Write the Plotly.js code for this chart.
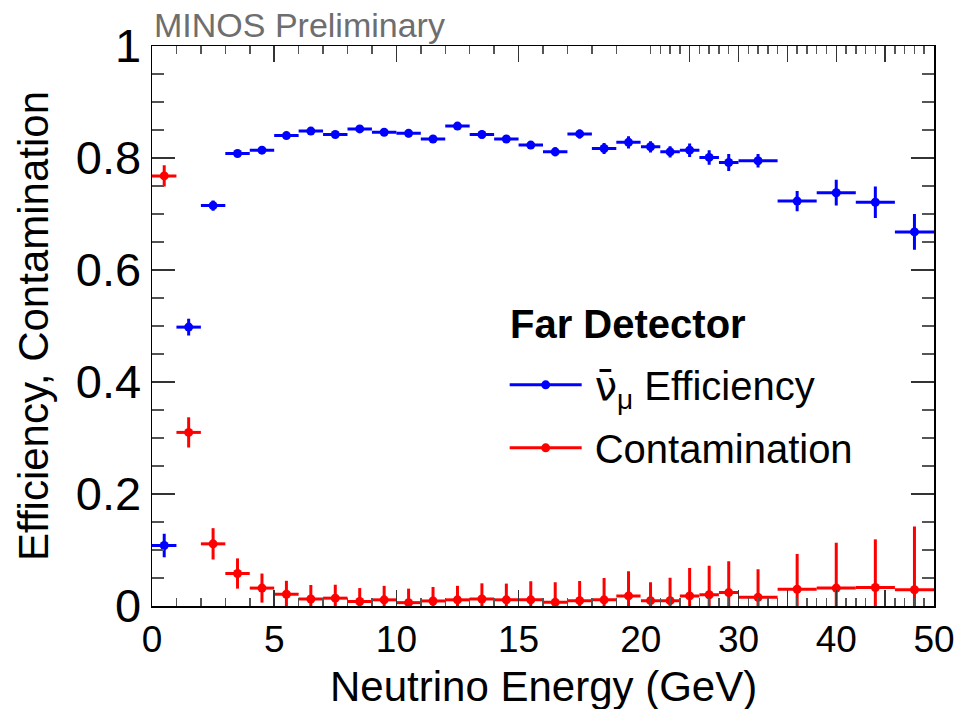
<!DOCTYPE html>
<html>
<head>
<meta charset="utf-8">
<script src="https://cdn.plot.ly/plotly-3.0.1.min.js"></script>
<style>
  html, body { margin: 0; padding: 0; background: #fff; }
  #chart { width: 974px; height: 709px; }
</style>
</head>
<body>
<div id="chart"></div>
<script>
// ---- Data ----
// Bin centres (GeV) and bin half-widths (GeV)
const energy = [0.5, 1.5, 2.5, 3.5, 4.5, 5.5, 6.5, 7.5, 8.5, 9.5,
                10.5, 11.5, 12.5, 13.5, 14.5, 15.5, 16.5, 17.5, 18.5, 19.5,
                21, 23, 25, 27, 29,
                32, 36, 40, 44, 48];
const binHalfWidth = [0.5, 0.5, 0.5, 0.5, 0.5, 0.5, 0.5, 0.5, 0.5, 0.5,
                      0.5, 0.5, 0.5, 0.5, 0.5, 0.5, 0.5, 0.5, 0.5, 0.5,
                      1, 1, 1, 1, 1,
                      2, 2, 2, 2, 2];

// anti-numu efficiency
const efficiency = [0.108, 0.498, 0.715, 0.808, 0.814, 0.840, 0.848, 0.842, 0.852, 0.846,
                    0.844, 0.834, 0.857, 0.842, 0.834, 0.823, 0.811, 0.843, 0.817, 0.828,
                    0.820, 0.811, 0.814, 0.801, 0.792,
                    0.795, 0.723, 0.738, 0.721, 0.668];
const efficiencyErr = [0.021, 0.015, 0.009, 0.006, 0.006, 0.006, 0.006, 0.006, 0.006, 0.006,
                       0.007, 0.007, 0.007, 0.007, 0.007, 0.007, 0.008, 0.008, 0.010, 0.011,
                       0.010, 0.010, 0.012, 0.013, 0.015,
                       0.012, 0.018, 0.023, 0.028, 0.032];

// contamination
const contamination = [0.768, 0.310, 0.111, 0.058, 0.032, 0.021, 0.0125, 0.014, 0.008, 0.011,
                       0.006, 0.009, 0.011, 0.0125, 0.011, 0.011, 0.0065, 0.0095, 0.011, 0.018,
                       0.0095, 0.0095, 0.018, 0.020, 0.024,
                       0.0155, 0.030, 0.032, 0.033, 0.029];
const contErrUp = [0.019, 0.027, 0.028, 0.027, 0.026, 0.024, 0.025, 0.024, 0.024, 0.025,
                   0.025, 0.025, 0.025, 0.028, 0.029, 0.033, 0.036, 0.035, 0.039, 0.044,
                   0.033, 0.041, 0.050, 0.052, 0.056,
                   0.050, 0.063, 0.081, 0.086, 0.113];
const contErrDown = [0.019, 0.027, 0.028, 0.027, 0.026, 0.021, 0.0125, 0.014, 0.008, 0.011,
                     0.006, 0.009, 0.011, 0.0125, 0.011, 0.011, 0.0065, 0.0095, 0.011, 0.018,
                     0.0095, 0.0095, 0.018, 0.020, 0.024,
                     0.0155, 0.030, 0.032, 0.033, 0.029];

const xTickLow = [0, 5, 10, 15, 20];
const xTickHigh = [25, 30, 35, 40, 45, 50];
const xTickHighText = ['', '30', '', '40', '', '50'];

const seriesNames = ['\u2009<span style="font-family:\'DejaVu Sans\'">ν̄</span><sub>μ</sub> Efficiency', '\u2009Contamination'];
const legendTitle = 'Far Detector';
const BLUE = '#0000ff', RED = '#ff0000';
const FONT = '"Liberation Sans", Arial, Helvetica, sans-serif';

// ---- Build traces ----
function pick(arr, keep) { return arr.filter((_, i) => keep(i)); }
const isLow = i => energy[i] < 20;
const isHigh = i => energy[i] > 20;

function pointsTrace(vals, up, down, color, keep, xa, ya) {
  return {
    type: 'scatter', mode: 'markers',
    x: pick(energy, keep), y: pick(vals, keep),
    xaxis: xa, yaxis: ya, showlegend: false, hoverinfo: 'x+y',
    marker: { color: color, size: 9 },
    error_x: { type: 'data', array: pick(binHalfWidth, keep), symmetric: true,
               color: color, thickness: 3, width: 0 },
    error_y: { type: 'data', array: pick(up, keep), arrayminus: pick(down, keep), symmetric: false,
               color: color, thickness: 3, width: 0 }
  };
}

const traces = [
  pointsTrace(efficiency, efficiencyErr, efficiencyErr, BLUE, isLow, 'x', 'y'),
  pointsTrace(efficiency, efficiencyErr, efficiencyErr, BLUE, isHigh, 'x2', 'y2'),
  pointsTrace(contamination, contErrUp, contErrDown, RED, isLow, 'x', 'y'),
  pointsTrace(contamination, contErrUp, contErrDown, RED, isHigh, 'x2', 'y2'),
  { type: 'scatter', mode: 'lines+markers', x: [null], y: [null], name: seriesNames[0],
    legendgroup: 'a', line: { color: BLUE, width: 3 }, marker: { color: BLUE, size: 9 } },
  { type: 'scatter', mode: 'lines+markers', x: [null], y: [null], name: seriesNames[1],
    legendgroup: 'b', line: { color: RED, width: 3 }, marker: { color: RED, size: 9 } }
];

const split = 20 / 32;
const commonX = {
  showline: true, linecolor: '#000', linewidth: 1.5, mirror: 'allticks',
  ticks: 'inside', ticklen: 16, tickwidth: 1.5, tickcolor: '#333',
  showgrid: false, zeroline: false, fixedrange: true,
  tickfont: { family: FONT, size: 37, color: '#000' }
};
const commonY = {
  range: [0, 1], showline: true, linecolor: '#000', linewidth: 1.5,
  ticks: 'inside', ticklen: 23, tickwidth: 1.5, tickcolor: '#333',
  dtick: 0.2, tick0: 0, showgrid: false, zeroline: false, fixedrange: true,
  minor: { dtick: 0.05, ticks: 'inside', ticklen: 12, tickwidth: 1.5, tickcolor: '#555', showgrid: false },
  tickfont: { family: FONT, size: 47, color: '#000' }
};

const layout = {
  width: 974, height: 709,
  margin: { l: 152, r: 40, t: 46, b: 103 },
  paper_bgcolor: '#fff', plot_bgcolor: '#fff',
  font: { family: FONT, color: '#000' },
  showlegend: true,
  xaxis: Object.assign({}, commonX, {
    domain: [0, split], range: [0, 20], anchor: 'y',
    tickmode: 'array', tickvals: xTickLow,
    minor: { tickmode: 'linear', tick0: 0, dtick: 1, ticks: 'inside', ticklen: 8, tickwidth: 1.5, tickcolor: '#555', showgrid: false }
  }),
  xaxis2: Object.assign({}, commonX, {
    domain: [split, 1], range: [20, 50], anchor: 'y2',
    tickmode: 'array', tickvals: xTickHigh, ticktext: xTickHighText,
    minor: { tickmode: 'linear', tick0: 20, dtick: 1, ticks: 'inside', ticklen: 8, tickwidth: 1.5, tickcolor: '#555', showgrid: false }
  }),
  yaxis: Object.assign({}, commonY, {
    anchor: 'x', side: 'left', mirror: false,
    title: { text: 'Efficiency, Contamination', font: { family: FONT, size: 42, color: '#000' }, standoff: 14 }
  }),
  yaxis2: Object.assign({}, commonY, {
    anchor: 'x2', side: 'right', mirror: false, matches: 'y', showticklabels: false
  }),
  legend: {
    x: 0.451, y: 0.453, xanchor: 'left', yanchor: 'top',
    bgcolor: 'rgba(255,255,255,0)', borderwidth: 0,
    font: { family: FONT, size: 40, color: '#000' },
    traceorder: 'grouped', tracegroupgap: 8, itemwidth: 72
  },
  annotations: [
    { text: '<b>' + legendTitle + '</b>', xref: 'paper', yref: 'paper', x: 0.455, y: 0.503,
      xanchor: 'left', yanchor: 'middle', showarrow: false,
      font: { family: FONT, size: 40, color: '#000' } },
    { text: 'MINOS Preliminary', xref: 'paper', yref: 'paper', x: 0, y: 1,
      xanchor: 'left', yanchor: 'bottom', showarrow: false,
      font: { family: FONT, size: 34, color: '#6e6e6e' } },
    { text: 'Neutrino Energy (GeV)', xref: 'paper', yref: 'paper', x: 0.5, y: 0,
      xanchor: 'center', yanchor: 'top', yshift: -55, showarrow: false,
      font: { family: FONT, size: 42, color: '#000' } }
  ]
};

Plotly.newPlot('chart', traces, layout, { displayModeBar: false, staticPlot: true });
</script>
</body>
</html>
